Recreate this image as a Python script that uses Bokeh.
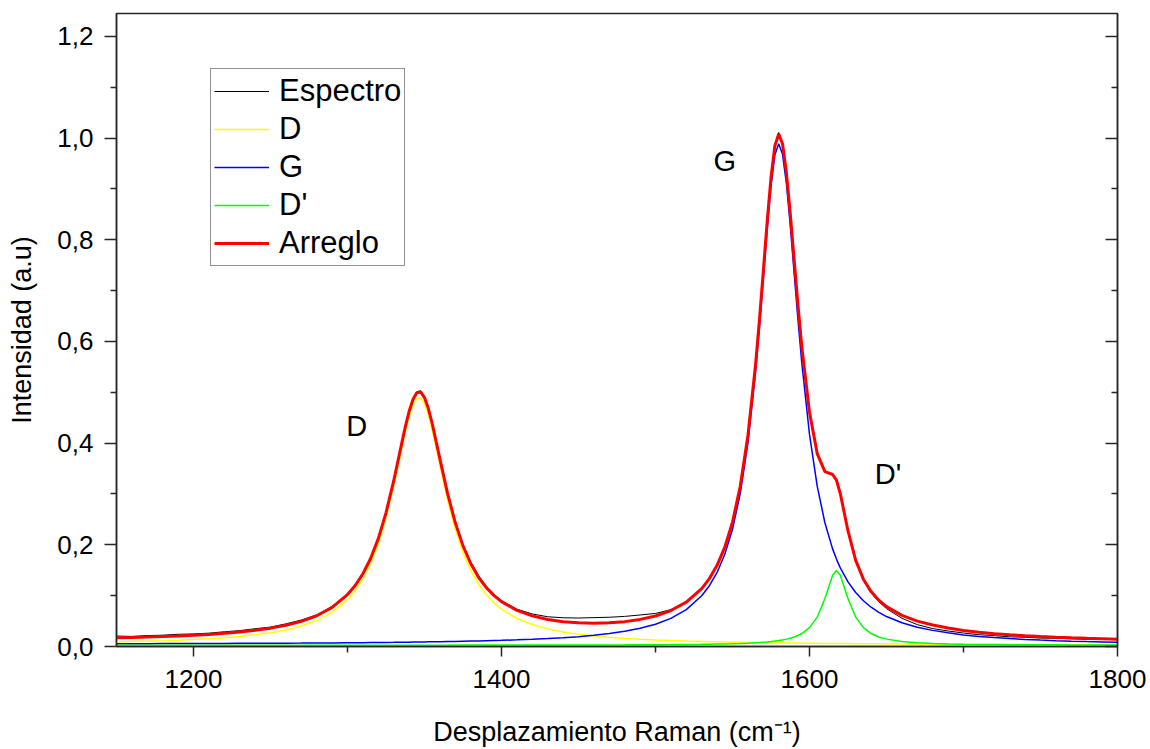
from bokeh.plotting import figure
from bokeh.models import (Range1d, FixedTicker, LinearAxis, CustomJSTickFormatter,
                          Legend, LegendItem, ColumnDataSource)
from bokeh.core.properties import value
from bokeh.embed import file_html
from bokeh.resources import INLINE

# ---------------- data ----------------
raman_shift = [1150, 1160, 1170, 1180, 1190, 1200, 1210, 1220, 1230, 1240, 1250, 1260, 1270, 1280, 1290, 1300,
               1305, 1310, 1315, 1320, 1325, 1330, 1335, 1337.5, 1340, 1342.5, 1345, 1347.5, 1350, 1352.5, 1355,
               1360, 1365, 1370, 1375, 1380, 1385, 1390, 1395,
               1400, 1410, 1420, 1430, 1440, 1450, 1460, 1470, 1480, 1490, 1500, 1510, 1520, 1530,
               1535, 1540, 1545, 1550, 1555, 1560, 1565, 1567.5, 1570, 1572.5, 1575, 1577.5, 1580, 1582.5, 1585,
               1587.5, 1590, 1592.5, 1595, 1600, 1605, 1610, 1615, 1617.5, 1620, 1625, 1630, 1635, 1640, 1645, 1650,
               1660, 1670, 1680, 1690, 1700, 1710, 1720, 1730, 1740, 1750, 1760, 1770, 1780, 1790, 1800]

espectro = [0.0205, 0.0198, 0.0215, 0.0222, 0.0240, 0.0248, 0.0262, 0.0290, 0.0312, 0.0350, 0.0382, 0.0445, 0.0520, 0.0620, 0.0790, 0.1030,
            0.1215, 0.1440, 0.1745, 0.2130, 0.2640, 0.3270, 0.3980, 0.4330, 0.4640, 0.4880, 0.5010, 0.5030, 0.4910, 0.4700, 0.4400,
            0.3700, 0.3030, 0.2460, 0.2000, 0.1660, 0.1400, 0.1190, 0.1030,
            0.0900, 0.0735, 0.0640, 0.0585, 0.0565, 0.0560, 0.0568, 0.0575, 0.0592, 0.0620, 0.0650, 0.0725, 0.0880, 0.1140,
            0.1330, 0.1590, 0.1950, 0.2450, 0.3140, 0.4150, 0.5560, 0.6440, 0.7390, 0.8370, 0.9230, 0.9870, 1.0110, 0.9900, 0.9330,
            0.8530, 0.7620, 0.6730, 0.5910, 0.4620, 0.3830, 0.3450, 0.3370, 0.3260, 0.3000, 0.2280, 0.1680, 0.1300, 0.1055, 0.0880, 0.0745,
            0.0555, 0.0430, 0.0352, 0.0305, 0.0265, 0.0232, 0.0213, 0.0190, 0.0182, 0.0165, 0.0163, 0.0150, 0.0141, 0.0143, 0.0135]

banda_d = [0.0090, 0.0097, 0.0105, 0.0114, 0.0124, 0.0137, 0.0153, 0.0173, 0.0198, 0.0229, 0.0271, 0.0326, 0.0402, 0.0510, 0.0671, 0.0921,
           0.1098, 0.1328, 0.1627, 0.2017, 0.2521, 0.3147, 0.3855, 0.4202, 0.4509, 0.4744, 0.4877, 0.4890, 0.4780, 0.4563, 0.4267,
           0.3568, 0.2883, 0.2305, 0.1848, 0.1498, 0.1229, 0.1022, 0.0861,
           0.0734, 0.0552, 0.0431, 0.0346, 0.0286, 0.0241, 0.0206, 0.0180, 0.0159, 0.0142, 0.0128, 0.0117, 0.0107, 0.0099,
           0.0095, 0.0092, 0.0089, 0.0086, 0.0083, 0.0080, 0.0078, 0.0077, 0.0076, 0.0075, 0.0074, 0.0073, 0.0072, 0.0071, 0.0070,
           0.0069, 0.0068, 0.0067, 0.0066, 0.0064, 0.0063, 0.0061, 0.0060, 0.0059, 0.0058, 0.0057, 0.0055, 0.0054, 0.0053, 0.0052, 0.0051,
           0.0049, 0.0047, 0.0045, 0.0044, 0.0042, 0.0041, 0.0040, 0.0039, 0.0038, 0.0037, 0.0036, 0.0035, 0.0034, 0.0034, 0.0033]

banda_g = [0.0054, 0.0055, 0.0056, 0.0057, 0.0057, 0.0058, 0.0059, 0.0060, 0.0062, 0.0063, 0.0064, 0.0066, 0.0067, 0.0069, 0.0071, 0.0074,
           0.0075, 0.0076, 0.0078, 0.0079, 0.0081, 0.0082, 0.0084, 0.0085, 0.0086, 0.0087, 0.0088, 0.0089, 0.0090, 0.0091, 0.0092,
           0.0094, 0.0097, 0.0100, 0.0103, 0.0106, 0.0109, 0.0113, 0.0117,
           0.0121, 0.0131, 0.0142, 0.0156, 0.0173, 0.0194, 0.0221, 0.0254, 0.0298, 0.0357, 0.0437, 0.0553, 0.0725, 0.0997,
           0.1195, 0.1457, 0.1813, 0.2306, 0.3003, 0.4000, 0.5403, 0.6270, 0.7220, 0.8187, 0.9052, 0.9666, 0.9890, 0.9681, 0.9106,
           0.8285, 0.7358, 0.6433, 0.5578, 0.4172, 0.3154, 0.2434, 0.1920, 0.1719, 0.1547, 0.1270, 0.1061, 0.0899, 0.0772, 0.0671, 0.0589,
           0.0466, 0.0379, 0.0317, 0.0270, 0.0228, 0.0199, 0.0175, 0.0156, 0.0140, 0.0127, 0.0115, 0.0105, 0.0097, 0.0090, 0.0083]

banda_d_prima = [0.0026, 0.0026, 0.0026, 0.0026, 0.0026, 0.0026, 0.0026, 0.0026, 0.0026, 0.0026, 0.0026, 0.0026, 0.0026, 0.0026, 0.0026, 0.0026,
                 0.0026, 0.0026, 0.0026, 0.0026, 0.0027, 0.0027, 0.0027, 0.0027, 0.0027, 0.0027, 0.0027, 0.0027, 0.0027, 0.0027, 0.0027,
                 0.0027, 0.0027, 0.0028, 0.0028, 0.0028, 0.0028, 0.0028, 0.0028,
                 0.0028, 0.0028, 0.0029, 0.0029, 0.0029, 0.0030, 0.0031, 0.0031, 0.0032, 0.0034, 0.0035, 0.0037, 0.0040, 0.0043,
                 0.0045, 0.0048, 0.0051, 0.0055, 0.0060, 0.0066, 0.0074, 0.0078, 0.0084, 0.0090, 0.0098, 0.0107, 0.0117, 0.0130, 0.0145,
                 0.0164, 0.0188, 0.0217, 0.0255, 0.0371, 0.0577, 0.0945, 0.1403, 0.1495, 0.1403, 0.0945, 0.0577, 0.0371, 0.0255, 0.0188, 0.0145,
                 0.0098, 0.0074, 0.0060, 0.0051, 0.0045, 0.0041, 0.0038, 0.0036, 0.0034, 0.0033, 0.0032, 0.0031, 0.0030, 0.0030, 0.0029]

arreglo = [0.0170, 0.0178, 0.0187, 0.0197, 0.0207, 0.0221, 0.0238, 0.0259, 0.0286, 0.0318, 0.0361, 0.0418, 0.0495, 0.0605, 0.0768, 0.1021,
           0.1199, 0.1430, 0.1731, 0.2122, 0.2629, 0.3256, 0.3966, 0.4314, 0.4622, 0.4858, 0.4992, 0.5006, 0.4897, 0.4681, 0.4386,
           0.3689, 0.3007, 0.2433, 0.1979, 0.1632, 0.1366, 0.1163, 0.1006,
           0.0883, 0.0711, 0.0602, 0.0531, 0.0488, 0.0465, 0.0458, 0.0465, 0.0489, 0.0533, 0.0600, 0.0707, 0.0872, 0.1139,
           0.1335, 0.1597, 0.1953, 0.2447, 0.3146, 0.4146, 0.5555, 0.6425, 0.7380, 0.8352, 0.9224, 0.9846, 1.0079, 0.9882, 0.9321,
           0.8518, 0.7614, 0.6717, 0.5899, 0.4607, 0.3794, 0.3440, 0.3383, 0.3273, 0.3008, 0.2272, 0.1693, 0.1324, 0.1080, 0.0911, 0.0785,
           0.0613, 0.0500, 0.0422, 0.0365, 0.0315, 0.0281, 0.0253, 0.0231, 0.0212, 0.0197, 0.0183, 0.0171, 0.0161, 0.0154, 0.0145]

series_labels = ["Espectro", "D", "G", "D'", "Arreglo"]
x_ticks = [1200, 1400, 1600, 1800]
x_minor_ticks = [1300, 1500, 1700]
y_ticks = [0.0, 0.2, 0.4, 0.6, 0.8, 1.0, 1.2]
y_minor_ticks = [0.1, 0.3, 0.5, 0.7, 0.9, 1.1]

peak_names = ["D", "G", "D'"]
peak_name_x = [1306, 1545, 1651]
peak_name_y = [0.434, 0.955, 0.340]

# ---------------- figure ----------------
FONT = "Liberation Sans"
AXIS_COLOR = "#262626"

p = figure(width=1150, height=749, output_backend="svg", toolbar_location=None,
           x_range=Range1d(1150, 1800), y_range=Range1d(0, 1.245),
           min_border_left=116, min_border_right=33, min_border_top=13, min_border_bottom=101)
p.background_fill_color = "white"
p.border_fill_color = "white"
p.grid.visible = False
p.outline_line_color = AXIS_COLOR
p.outline_line_width = 1.5

src = ColumnDataSource(dict(x=raman_shift, esp=espectro, d=banda_d, g=banda_g,
                            dp=banda_d_prima, fit=arreglo))

r_esp = p.line("x", "esp", source=src, line_color="#000000", line_width=1)
r_d = p.line("x", "d", source=src, line_color="#FFFF00", line_width=1.5)
r_g = p.line("x", "g", source=src, line_color="#0000FF", line_width=1.5)
r_dp = p.line("x", "dp", source=src, line_color="#00FF00", line_width=1.5)
r_fit = p.line("x", "fit", source=src, line_color="#FF0000", line_width=3)

fmt = CustomJSTickFormatter(code="return tick.toFixed(1).replace('.', ',');")

# bottom axis
xa = p.xaxis[0]
xa.ticker = FixedTicker(ticks=x_ticks, minor_ticks=x_minor_ticks)
xa.major_tick_out = 10
xa.major_tick_in = 0
xa.minor_tick_out = 6
xa.minor_tick_in = 0
xa.axis_line_color = AXIS_COLOR
xa.axis_line_width = 1.5
xa.major_tick_line_color = AXIS_COLOR
xa.major_tick_line_width = 1.5
xa.minor_tick_line_color = AXIS_COLOR
xa.minor_tick_line_width = 1.5
xa.major_label_text_font = FONT
xa.major_label_text_font_size = "26px"
xa.major_label_text_color = "#000000"
xa.major_label_standoff = 13
xa.axis_label = "Desplazamiento Raman (cm\u207b\u00b9)"
xa.axis_label_text_font = FONT
xa.axis_label_text_font_size = "27px"
xa.axis_label_text_font_style = "normal"
xa.axis_label_text_color = "#000000"
xa.axis_label_standoff = 26

# left axis
ya = p.yaxis[0]
ya.ticker = FixedTicker(ticks=y_ticks, minor_ticks=y_minor_ticks)
ya.formatter = fmt
ya.major_tick_out = 12
ya.major_tick_in = 0
ya.minor_tick_out = 6
ya.minor_tick_in = 0
ya.axis_line_color = AXIS_COLOR
ya.axis_line_width = 1.5
ya.major_tick_line_color = AXIS_COLOR
ya.major_tick_line_width = 1.5
ya.minor_tick_line_color = AXIS_COLOR
ya.minor_tick_line_width = 1.5
ya.major_label_text_font = FONT
ya.major_label_text_font_size = "26px"
ya.major_label_text_color = "#000000"
ya.major_label_standoff = 11
ya.axis_label = "Intensidad (a.u)"
ya.axis_label_text_font = FONT
ya.axis_label_text_font_size = "27px"
ya.axis_label_text_font_style = "normal"
ya.axis_label_text_color = "#000000"
ya.axis_label_standoff = 17

# right axis: ticks pointing inwards, no labels
ra = LinearAxis(ticker=FixedTicker(ticks=y_ticks, minor_ticks=y_minor_ticks),
                formatter=CustomJSTickFormatter(code="return '';"),
                major_tick_in=12, major_tick_out=0, minor_tick_in=6, minor_tick_out=0,
                axis_line_color=AXIS_COLOR, axis_line_width=1.5,
                major_tick_line_color=AXIS_COLOR, major_tick_line_width=1.5,
                minor_tick_line_color=AXIS_COLOR, minor_tick_line_width=1.5,
                major_label_standoff=0)
p.add_layout(ra, "right")

# peak names
p.text(x=peak_name_x, y=peak_name_y, text=peak_names,
       text_font=value(FONT), text_font_size="29px", text_color="#000000",
       text_align="center", text_baseline="middle")

legend = Legend(items=[LegendItem(label=series_labels[0], renderers=[r_esp]),
                       LegendItem(label=series_labels[1], renderers=[r_d]),
                       LegendItem(label=series_labels[2], renderers=[r_g]),
                       LegendItem(label=series_labels[3], renderers=[r_dp]),
                       LegendItem(label=series_labels[4], renderers=[r_fit])],
                location=(94, 380), orientation="vertical",
                glyph_width=55, glyph_height=38, label_height=38, label_standoff=10,
                spacing=0, padding=3, margin=0,
                label_text_font=FONT, label_text_font_size="31px", label_text_color="#000000",
                border_line_color=AXIS_COLOR, border_line_width=1.5,
                background_fill_color="white", background_fill_alpha=1.0)
p.add_layout(legend)

open("out.html", "w").write(file_html(p, INLINE))
